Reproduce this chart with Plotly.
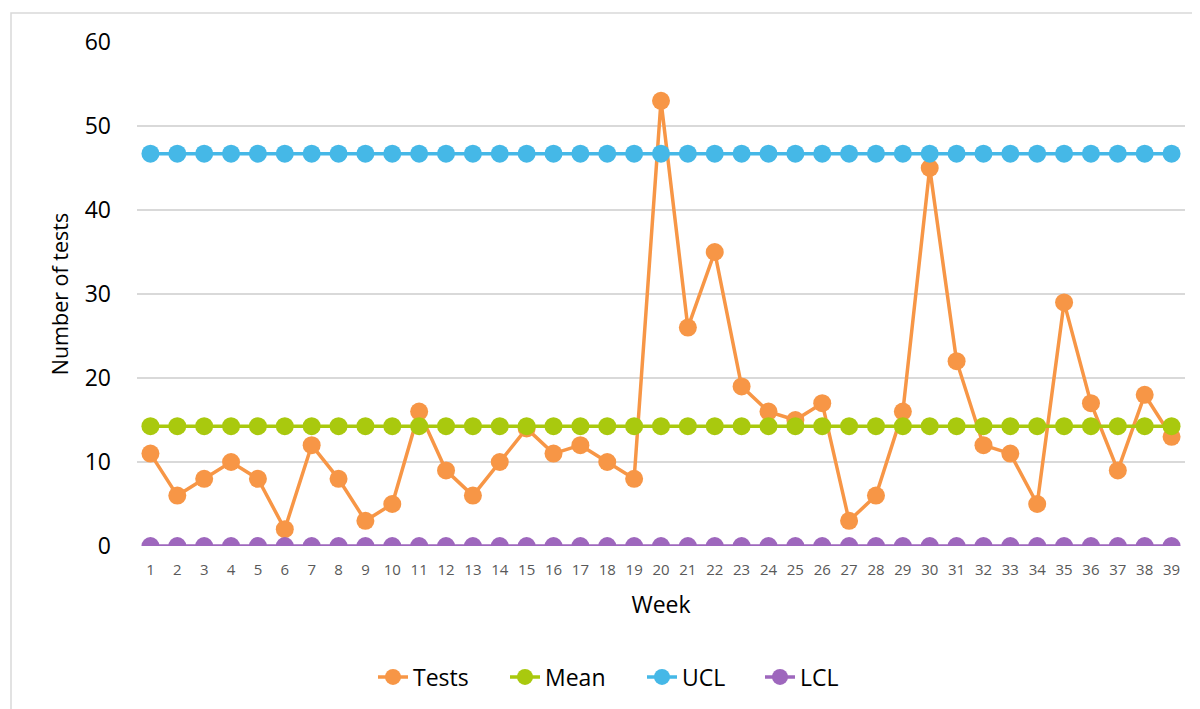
import plotly.graph_objects as go

weeks = [str(i) for i in range(1, 40)]
tests = [11, 6, 8, 10, 8, 2, 12, 8, 3, 5, 16, 9, 6, 10, 14, 11, 12, 10, 8, 53,
         26, 35, 19, 16, 15, 17, 3, 6, 16, 45, 22, 12, 11, 5, 29, 17, 9, 18, 13]
mean_val = [14.26] * 39
ucl_val = [46.7] * 39
lcl_val = [0] * 39

series = [
    ("Tests", tests, "#F79646"),
    ("Mean", mean_val, "#A9C90E"),
    ("UCL", ucl_val, "#45B8E7"),
    ("LCL", lcl_val, "#9E67BD"),
]
legend_ids = ["legend", "legend2", "legend3", "legend4"]
# screen x where each legend label's text starts
legend_text_x = [413, 545, 682, 800]

# page body has an 8px margin; plot area target (screen): x 137..1185, y 42..546
OFF = 8
L, T, R, B = 137 - OFF, 42 - OFF, 1185 - OFF, 546 - OFF
PW, PH = R - L, B - T

fig = go.Figure()
for (name, vals, color), lid in zip(series, legend_ids):
    fig.add_trace(go.Scatter(
        x=weeks, y=vals, name=name, mode="lines+markers",
        line=dict(color=color, width=3.5),
        marker=dict(color=color, size=18),
        legend=lid,
    ))

FONT = "Open Sans"
legends = {}
for lid, tx in zip(legend_ids, legend_text_x):
    legends[lid] = dict(
        orientation="h", x=(tx - OFF - 40 - L) / PW, xanchor="left",
        y=(B - (677 - OFF)) / PH, yanchor="middle",
        font=dict(size=23, color="#000000"), bgcolor="rgba(0,0,0,0)",
    )

fig.update_layout(
    width=1200, height=709,
    margin=dict(l=L, r=1200 - R, t=T, b=709 - B, autoexpand=False),
    paper_bgcolor="white", plot_bgcolor="white",
    font=dict(family=FONT, color="#000000"),
    showlegend=True,
    xaxis=dict(
        type="category", showgrid=False, zeroline=False, showline=False, automargin=False,
        tickfont=dict(size=15, color="#595959"), ticks="", ticklabelstandoff=13,
        title=dict(text="Week", font=dict(size=23, color="#000000"), standoff=18),
        range=[-0.5, 38.5],
    ),
    yaxis=dict(
        range=[0, 60], dtick=10, showgrid=True, gridcolor="#D9D9D9", gridwidth=1.5,
        zeroline=False, showline=False, ticks="", automargin=False,
        tickfont=dict(size=23, color="#000000"), ticklabelstandoff=25,
        title=dict(text="Number of tests", font=dict(size=21.5, color="#000000"), standoff=10),
    ),
    shapes=[dict(type="rect", xref="paper", yref="paper",
                 x0=(11 - OFF - L) / PW, x1=(1210 - L) / PW,
                 y0=(B - 730) / PH, y1=(B - (13 - OFF)) / PH,
                 line=dict(color="#D9D9D9", width=1.5), layer="below")],
    **legends,
)

fig.write_html("out.html")
